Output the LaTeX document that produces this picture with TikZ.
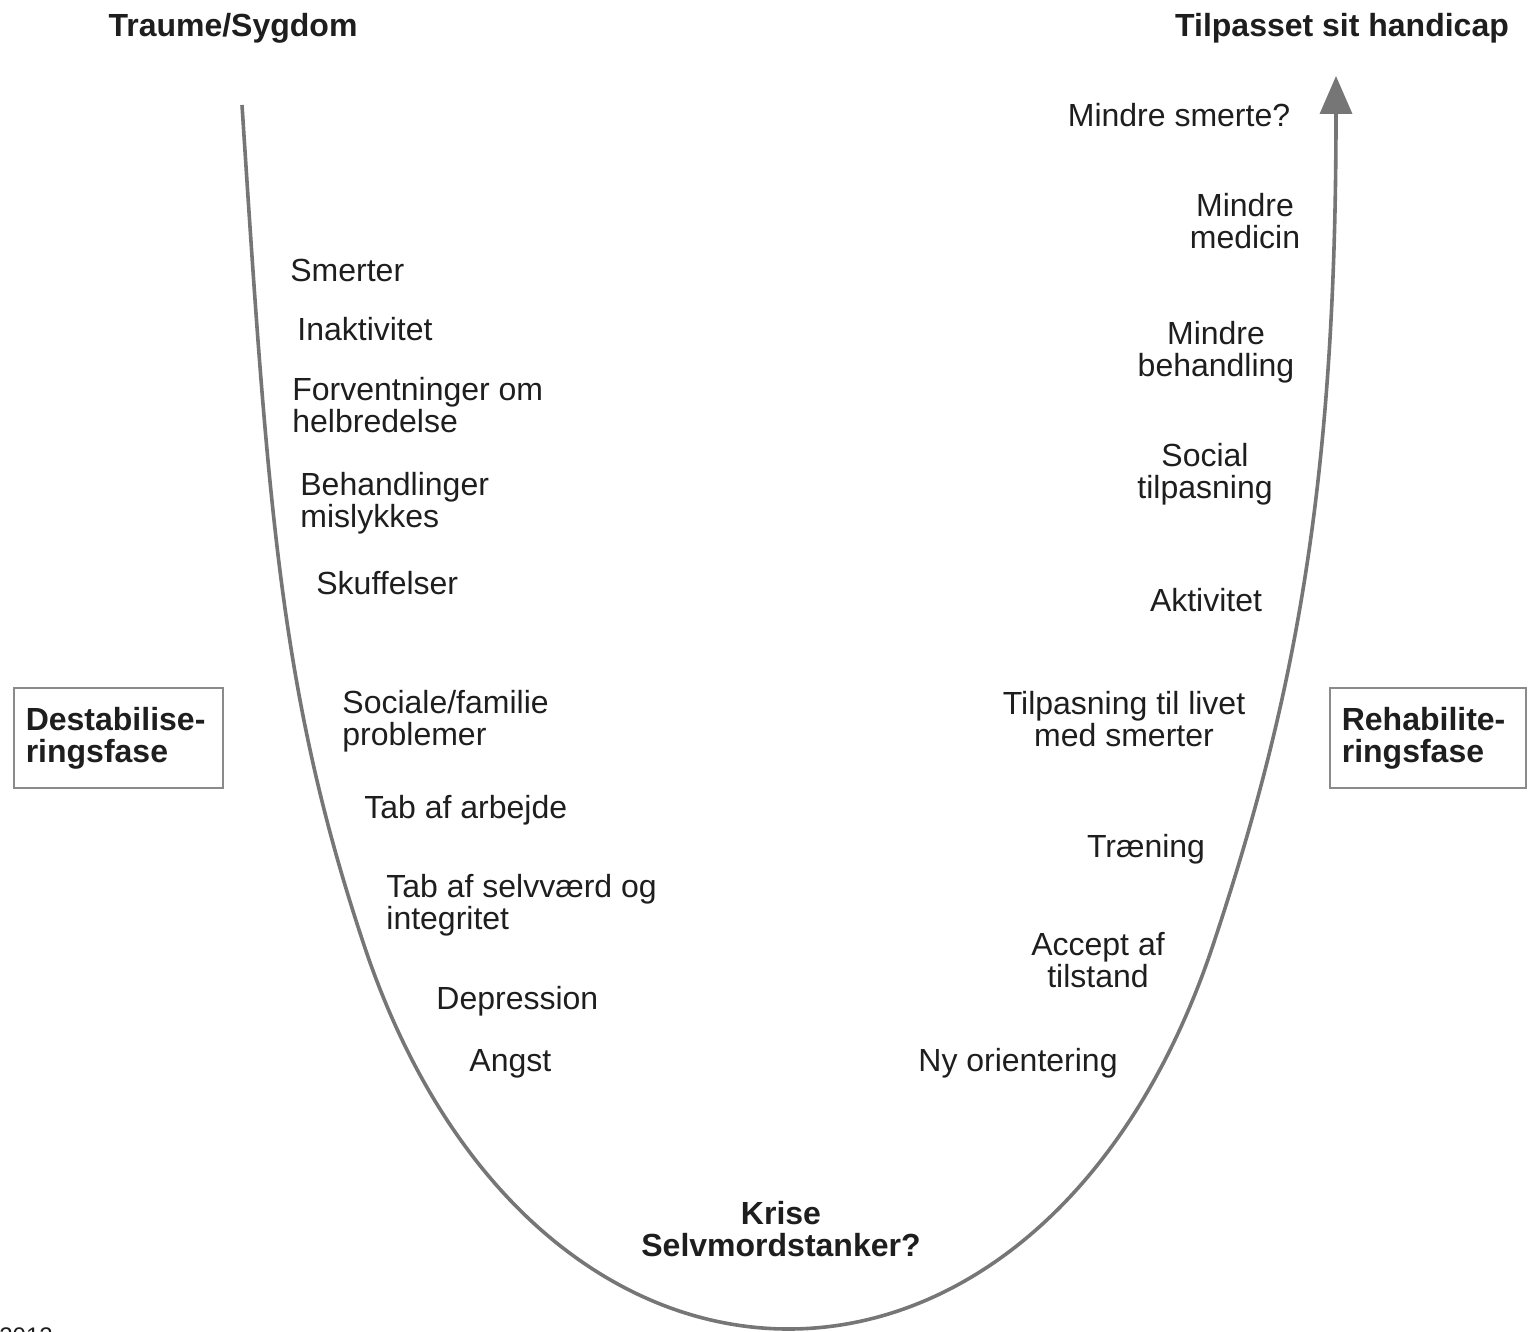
\documentclass[tikz,border=0pt]{standalone}
\usepackage{fontspec}
\setmainfont{Liberation Sans}
\usetikzlibrary{arrows.meta}
\definecolor{ink}{HTML}{1E1E1E}
\definecolor{curvegray}{HTML}{767676}
\definecolor{boxgray}{HTML}{8A8A8A}

\begin{document}
\begin{tikzpicture}[x=0.5pt, y=-0.5pt, font=\fontsize{16}{16}\selectfont, text=ink]
\tikzstyle{l} = [anchor=west, align=left, inner sep=0]
\tikzstyle{r} = [align=center, inner sep=0]
\tikzstyle{t} = [inner sep=0, font=\fontsize{16}{16}\selectfont\bfseries]
\tikzstyle{phase} = [draw=boxgray, line width=0.8pt, anchor=north west, inner sep=6pt, minimum height=50pt, align=left, font=\fontsize{16}{16}\selectfont\bfseries]
\tikzstyle{curve} = [draw=curvegray, line width=1.8pt, -{Triangle[length=19pt, width=16pt]}]

\useasboundingbox (0,0) rectangle (1530,1332);

% titles
\node[t] (traume) at (233,28) {Traume/Sygdom};
\node[t] (tilpasset) at (1342,28) {Tilpasset sit handicap};

% phases
\node[phase, text width=92.5pt] (destab) at (13,687) {Destabilise-\\ringsfase};
\node[phase, text width=86pt] (rehab) at (1329,687) {Rehabilite-\\ringsfase};

% left side
\node[l] (smerter) at (290,270) {Smerter};
\node[l] (inaktiv) at (297,329) {Inaktivitet};
\node[l] (forvent) at (292,405) {Forventninger om\\helbredelse};
\node[l] (behand) at (300,503) {Behandlinger\\mislykkes};
\node[l] (skuffel) at (316,583) {Skuffelser};
\node[l] (sociale) at (342,721) {Sociale/familie\\problemer};
\node[l] (arbejde) at (364,810) {Tab af arbejde};
\node[l] (selvv) at (386,905) {Tab af selvværd og\\integritet};
\node[l] (depr) at (436,1001) {Depression};
\node[l] (angst) at (469,1064) {Angst};

% bottom
\node[t, align=center] (krise) at (781,1229) {Krise\\Selvmordstanker?};

% right side
\node[r] (msmerte) at (1179,115) {Mindre smerte?};
\node[r] (mmedicin) at (1245,221) {Mindre\\medicin};
\node[r] (mbehand) at (1216,352) {Mindre\\behandling};
\node[r] (social) at (1205,474) {Social\\tilpasning};
\node[r] (aktiv) at (1206,600) {Aktivitet};
\node[r] (livet) at (1124,719) {Tilpasning til livet\\med smerter};
\node[r] (traen) at (1146,849) {Træning};
\node[r] (accept) at (1098,960) {Accept af\\tilstand};
\node[r] (nyori) at (1018,1063) {Ny orientering};

\node[anchor=base west, inner sep=0, font=\fontsize{12}{12}\selectfont] (aar) at (-1,1344) {2012};

% the curve
\coordinate (start) at (242,105);
\coordinate (lmid) at (363,942);
\coordinate (rmid) at (1214,942);
\coordinate (end) at (1336,76);
\draw[curve] (start) .. controls (268,505) and (280,692) .. (lmid)
  .. controls (533,1458) and (1044,1458) .. (rmid)
  .. controls (1297,692) and (1336,476) .. (end);
\end{tikzpicture}
\end{document}
